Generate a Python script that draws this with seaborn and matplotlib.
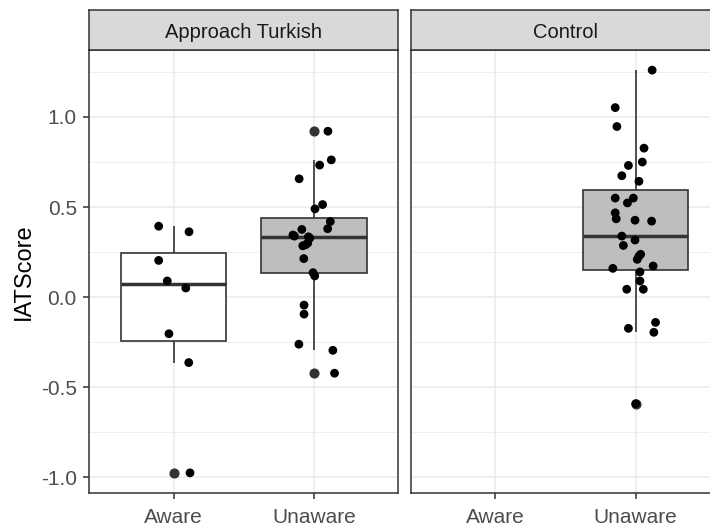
import numpy as np
import pandas as pd
import matplotlib
matplotlib.use('Agg')
import matplotlib.pyplot as plt
import seaborn as sns

facets = ['Approach Turkish', 'Control']
levels = ['Aware', 'Unaware']

# IAT scores, plus the sideways jitter of each dot (in category units)
turkish_aware = [0.394, 0.363, 0.204, 0.090, 0.051, -0.203, -0.363, -0.975]
turkish_aware_jit = [-0.106, 0.110, -0.106, -0.045, 0.087, -0.033, 0.108, 0.117]

turkish_unaware = [0.921, 0.762, 0.733, 0.657, 0.514, 0.490, 0.420, 0.380, 0.376, 0.345,
                   0.339, 0.335, 0.328, 0.300, 0.291, 0.285, 0.214, 0.136, 0.118, -0.044,
                   -0.094, -0.261, -0.295, -0.422]
turkish_unaware_jit = [0.099, 0.123, 0.040, -0.106, 0.061, 0.007, 0.116, 0.097, -0.087, -0.150,
                       -0.140, -0.040, -0.030, -0.045, -0.060, -0.080, -0.073, -0.007, 0.005, -0.071,
                       -0.071, -0.108, 0.134, 0.146]

control_aware = []
control_aware_jit = []

control_unaware = [1.260, 1.052, 0.947, 0.827, 0.750, 0.731, 0.674, 0.643, 0.550, 0.550,
                   0.523, 0.468, 0.435, 0.427, 0.422, 0.339, 0.317, 0.287, 0.238, 0.228,
                   0.210, 0.173, 0.160, 0.140, 0.090, 0.044, 0.044, -0.140, -0.173, -0.195,
                   -0.591]
control_unaware_jit = [0.117, -0.146, -0.134, 0.059, 0.047, -0.052, -0.099, 0.023, -0.146, -0.017,
                       -0.059, -0.146, -0.139, -0.005, 0.113, -0.099, -0.005, -0.088, 0.035, 0.023,
                       0.011, 0.124, -0.163, 0.030, 0.030, -0.064, 0.054, 0.141, -0.052, 0.129,
                       0.000]

rows = []
for cond, aw, vals, jit in [('Approach Turkish', 'Aware', turkish_aware, turkish_aware_jit),
                            ('Approach Turkish', 'Unaware', turkish_unaware, turkish_unaware_jit),
                            ('Control', 'Aware', control_aware, control_aware_jit),
                            ('Control', 'Unaware', control_unaware, control_unaware_jit)]:
    for v, j in zip(vals, jit):
        rows.append({'Condition': cond, 'Awareness': aw, 'IATScore': v, 'Jitter': j})
df = pd.DataFrame(rows)
df['xpos'] = df['Awareness'].map({l: i for i, l in enumerate(levels)}) + df['Jitter']

sns.set_theme(style='white')
plt.rcParams['font.family'] = ['Liberation Sans', 'DejaVu Sans']

W, H = 710, 531
fig = plt.figure(figsize=(W / 100, H / 100), dpi=100)

# ggplot style y range: data range plus 5% each side
lo, hi = df['IATScore'].min(), df['IATScore'].max()
pad = 0.05 * (hi - lo)

panel_top, panel_bottom, panel_w = 50, 493, 309
lefts = [89.3, 411]
edge = '#333333'

for i, facet in enumerate(facets):
    x0 = lefts[i]
    ax = fig.add_axes([x0 / W, 1 - panel_bottom / H, panel_w / W, (panel_bottom - panel_top) / H])
    sub = df[df['Condition'] == facet]
    sns.boxplot(data=sub, x='Awareness', y='IATScore', order=levels, hue='Awareness',
                hue_order=levels, palette={'Aware': 'white', 'Unaware': '#BEBEBE'},
                saturation=1, width=0.75, linecolor=edge, linewidth=1.2, showcaps=False,
                flierprops=dict(marker='o', markersize=6.3, markerfacecolor=edge,
                                markeredgecolor=edge),
                medianprops=dict(linewidth=2.5), legend=False, ax=ax)
    sns.scatterplot(x=sub['xpos'], y=sub['IATScore'], color='black', s=40,
                    edgecolor='none', zorder=4, ax=ax)

    ax.set_xlim(-0.6, 1.6)
    ax.set_ylim(lo - pad, hi + pad)
    ax.set_xticks([0, 1])
    ax.set_xticklabels(levels)
    ax.set_yticks([-1.0, -0.5, 0.0, 0.5, 1.0])
    ax.set_yticklabels(['-1.0', '-0.5', '0.0', '0.5', '1.0'])
    ax.set_yticks([-0.75, -0.25, 0.25, 0.75, 1.25], minor=True)
    ax.set_axisbelow(True)
    ax.grid(which='major', color='#EBEBEB', linewidth=1.1)
    ax.grid(which='minor', axis='y', color='#EBEBEB', linewidth=0.6)
    for s in ax.spines.values():
        s.set_visible(True)
        s.set_color(edge)
        s.set_linewidth(1.1)
    ax.tick_params(which='major', length=4, width=1.1, color=edge, labelsize=15,
                   labelcolor='#4D4D4D', bottom=True, left=(i == 0),
                   labelleft=(i == 0))
    ax.tick_params(axis='x', pad=7)
    ax.tick_params(axis='y', pad=5)
    ax.tick_params(which='minor', length=0)
    ax.set_xlabel('')
    if i == 0:
        ax.set_ylabel('IATScore', fontsize=17, color='black', labelpad=4)
    else:
        ax.set_ylabel('')

    # facet strip
    sax = fig.add_axes([x0 / W, 1 - panel_top / H, panel_w / W, 40 / H])
    sax.set_facecolor('#D9D9D9')
    sax.set_xticks([])
    sax.set_yticks([])
    for s in sax.spines.values():
        s.set_visible(True)
        s.set_color(edge)
        s.set_linewidth(1.1)
    sax.text(0.5, 0.44, facet, ha='center', va='center', fontsize=14.5, color='#1A1A1A',
             transform=sax.transAxes)

fig.savefig('out.png', dpi=100)
